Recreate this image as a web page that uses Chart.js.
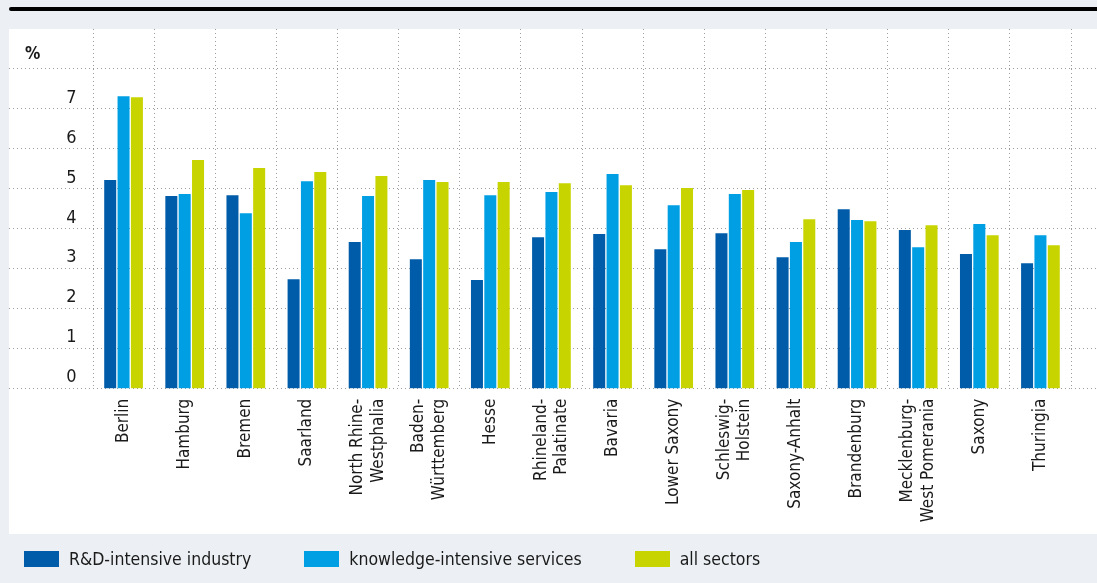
<!DOCTYPE html>
<html><head><meta charset="utf-8">
<script src="https://cdn.jsdelivr.net/npm/chart.js@4"></script>
<style>
html,body{margin:0;padding:0;}
body{width:1097px;height:583px;background:#ECF0F4;position:relative;overflow:hidden;font-family:"DejaVu Sans Condensed","Liberation Sans Narrow","DejaVu Sans",sans-serif;color:#1a1a1a;}
#rule{position:absolute;left:9px;top:7px;width:1088px;height:4px;background:#000;border-radius:2px 0 0 2px;}
#panel{position:absolute;left:9px;top:29px;width:1088px;height:505px;background:#fff;}
#c{position:absolute;left:0;top:0;}
#unit{position:absolute;left:25px;top:43px;font-size:17px;font-weight:bold;line-height:20px;}
#legend{position:absolute;left:24px;top:549px;display:flex;align-items:center;font-size:17.5px;line-height:20px;}
.item{display:flex;align-items:center;margin-right:53px;}
.sw{width:35px;height:16px;margin-right:10px;}
</style></head>
<body>
<div id="rule"></div><div id="panel"></div>
<canvas id="c" width="1097" height="583"></canvas>
<div id="unit">%</div>
<div id="legend"></div>
<script>
const categories = [
  'Berlin', 'Hamburg', 'Bremen', 'Saarland',
  ['North Rhine-', 'Westphalia'], ['Baden-', 'Württemberg'], 'Hesse',
  ['Rhineland-', 'Palatinate'], 'Bavaria', 'Lower Saxony',
  ['Schleswig-', 'Holstein'], 'Saxony-Anhalt', 'Brandenburg',
  ['Mecklenburg-', 'West Pomerania'], 'Saxony', 'Thuringia'
];
const seriesNames = ['R&D-intensive industry', 'knowledge-intensive services', 'all sectors'];
const rdIndustry        = [5.22, 4.82, 4.84, 2.74, 3.67, 3.24, 2.72, 3.79, 3.87, 3.49, 3.89, 3.29, 4.49, 3.97, 3.37, 3.14];
const knowledgeServices = [7.32, 4.87, 4.39, 5.19, 4.82, 5.22, 4.84, 4.92, 5.37, 4.59, 4.87, 3.67, 4.22, 3.54, 4.12, 3.84];
const allSectors        = [7.29, 5.72, 5.52, 5.42, 5.32, 5.17, 5.17, 5.14, 5.09, 5.02, 4.97, 4.24, 4.19, 4.09, 3.84, 3.59];
const yTickLabels = ['0', '1', '2', '3', '4', '5', '6', '7'];
const seriesColors = ['#005CA9', '#009FE3', '#C8D400'];

const FONT = '"DejaVu Sans Condensed", "Liberation Sans Narrow", "DejaVu Sans", sans-serif';
const GRID = '#9c9c9c';
const DASH = [1, 3];
const gridColor = c => (c.tick && c.tick.value === 9) ? 'rgba(0,0,0,0)' : GRID;

Chart.defaults.font.family = FONT;
Chart.defaults.color = '#1a1a1a';

const values = [rdIndustry, knowledgeServices, allSectors];
const datasets = values.map((v, i) => ({
  label: seriesNames[i],
  data: v,
  backgroundColor: seriesColors[i],
  borderWidth: 0,
  categoryPercentage: 0.655,
  barPercentage: 0.9,
  yAxisID: 'y'
}));

// centre multi-line rotated category labels on their tick
const centerMultiline = {
  id: 'centerMultiline',
  afterUpdate(chart) {
    const sc = chart.scales.x;
    const items = sc.getLabelItems();
    items.forEach(it => {
      if (Array.isArray(it.label) && it.label.length > 1 && !it._centred) {
        it.textOffset -= (it.label.length - 1) * it.font.lineHeight / 2;
        it._centred = true;
      }
    });
  }
};

new Chart(document.getElementById('c'), {
  type: 'bar',
  data: { labels: categories, datasets },
  plugins: [centerMultiline],
  options: {
    responsive: false,
    animation: false,
    devicePixelRatio: 1,
    layout: { padding: { top: 29, left: 0, right: 0, bottom: 0 } },
    plugins: { legend: { display: false }, tooltip: { enabled: false } },
    scales: {
      x: {
        offset: true,
        grid: { offset: true, color: GRID, drawTicks: false, tickLength: 0, borderDash: DASH },
        border: { display: false, dash: DASH },
        ticks: { autoSkip: false, minRotation: 90, maxRotation: 90, padding: 10, font: { size: 17 }, color: '#1a1a1a' },
        afterFit: s => { s.height = 194.3; }
      },
      y: {
        position: 'left',
        min: 0, max: 9,
        grid: { color: gridColor, tickColor: gridColor, drawTicks: true, tickLength: 84, tickBorderDash: DASH, borderDash: DASH },
        border: { display: false, dash: DASH },
        ticks: {
          stepSize: 1, padding: -67.5, labelOffset: -11, font: { size: 18 }, color: '#1a1a1a',
          callback: v => (yTickLabels[v] !== undefined ? yTickLabels[v] : '')
        },
        afterFit: s => { s.width = 93; }
      },
      y2: {
        position: 'right',
        min: 0, max: 9,
        grid: { drawOnChartArea: false, color: gridColor, tickColor: gridColor, drawTicks: true, tickLength: 26, tickBorderDash: DASH },
        border: { display: false },
        ticks: { stepSize: 1, display: false },
        afterFit: s => { s.width = 26; }
      }
    }
  }
});

const legend = document.getElementById('legend');
seriesNames.forEach((name, i) => {
  const item = document.createElement('div');
  item.className = 'item';
  const sw = document.createElement('span');
  sw.className = 'sw';
  sw.style.background = seriesColors[i];
  const tx = document.createElement('span');
  tx.textContent = name;
  item.appendChild(sw); item.appendChild(tx);
  legend.appendChild(item);
});
</script>
</body></html>
